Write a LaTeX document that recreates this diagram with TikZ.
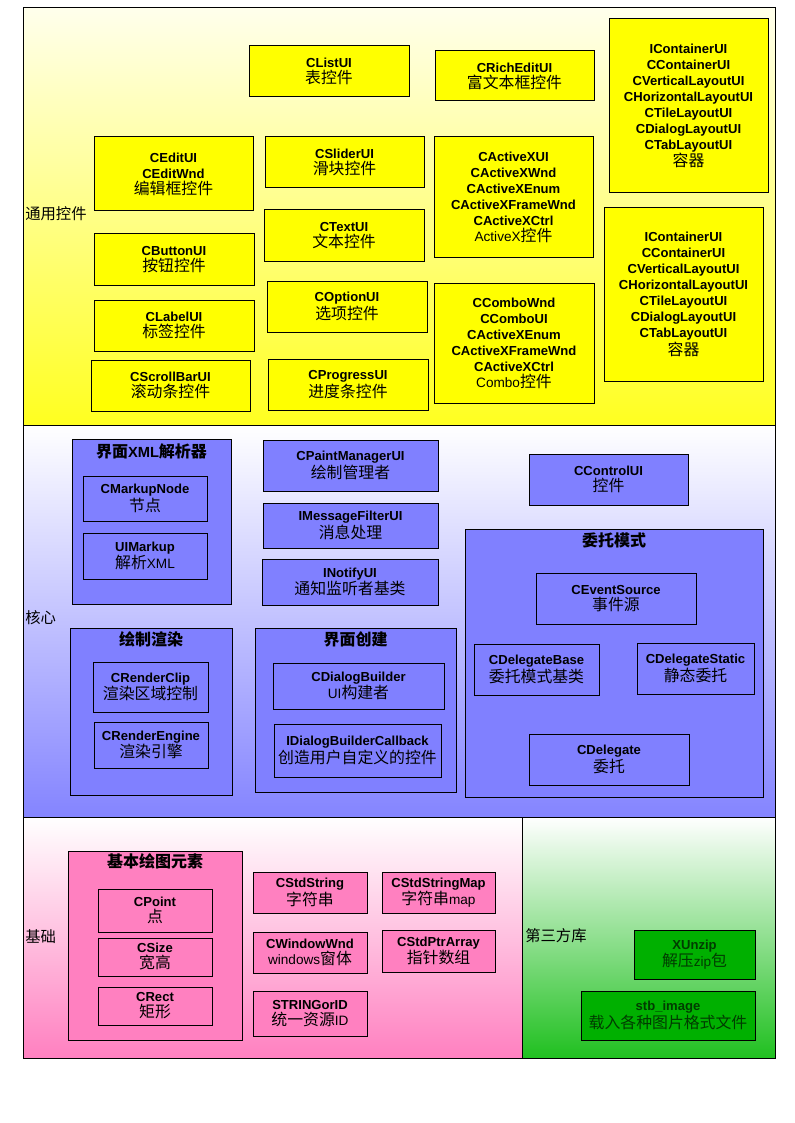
\documentclass[tikz,border=0pt]{standalone}
\usepackage{fontspec}
\setmainfont{Liberation Sans}
\newfontfamily\cjk{Noto Sans CJK SC}
\newcommand\lat{\bfseries\fontsize{9.8}{12}\selectfont}
\newcommand\zh[1]{{\cjk\mdseries\fontsize{11.9}{12}\selectfont #1}}
\newcommand\zhb[1]{{\cjk\bfseries\fontsize{12}{13}\selectfont #1}}
\newcommand\rg[1]{{\mdseries\fontsize{10.2}{12}\selectfont #1}}
\definecolor{boxY}{HTML}{FFFF00}
\definecolor{boxB}{HTML}{8080FF}
\definecolor{boxP}{HTML}{FF80C0}
\definecolor{boxG}{HTML}{00B000}
\definecolor{txtG}{HTML}{003C00}
\definecolor{yTop}{HTML}{FFFFEC}
\definecolor{yBot}{HTML}{FFFF20}
\definecolor{bBot}{HTML}{8484FF}
\definecolor{pBot}{HTML}{FF80C0}
\definecolor{gBot}{HTML}{20C020}
\newcommand\bx[7]{%
 \pgfmathsetmacro\bxx{(#3+#5)/2}\pgfmathsetmacro\bxy{(#4+#6)/2}%
 \pgfmathsetmacro\bxw{(#5-#3)*0.75}\pgfmathsetmacro\bxh{(#6-#4)*0.75}%
 \node[#1, minimum width=\bxw pt, minimum height=\bxh pt] (#2) at (\bxx,\bxy) {#7};}
\tikzset{
 base/.style={draw=black, line width=0.75pt, inner sep=0pt, align=center, font=\lat},
 ybox/.style={base, fill=boxY},
 bbox/.style={base, fill=boxB},
 pbox/.style={base, fill=boxP},
 gbox/.style={base, fill=boxG, text=txtG},
 sect/.style={draw=black, line width=0.75pt},
 seclabel/.style={anchor=west, inner sep=0pt, font=\cjk\fontsize{11.5}{13}\selectfont},
 ttl/.style={inner sep=0pt, font=\bfseries\fontsize{11}{13}\selectfont}
}
\begin{document}
\begin{tikzpicture}[x=0.75pt,y=-0.75pt]
\useasboundingbox[fill=white] (0,0) rectangle (794,1123);
% sections
\shade[top color=yTop, bottom color=yBot] (23,8) rectangle (775,425);
\draw[sect] (23,8) rectangle (775,425);
\shade[top color=white, bottom color=bBot] (23,425) rectangle (775,817);
\draw[sect] (23,425) rectangle (775,817);
\shade[top color=white, bottom color=pBot] (23,817) rectangle (522,1058);
\draw[sect] (23,817) rectangle (522,1058);
\shade[top color=white, bottom color=gBot] (522,817) rectangle (775,1058);
\draw[sect] (522,817) rectangle (775,1058);
\node[seclabel] (l1) at (25,214) {通用控件};
\node[seclabel] (l2) at (25,618) {核心};
\node[seclabel] (l3) at (25,937) {基础};
\node[seclabel] (l4) at (525,936) {第三方库};
% top section
\bx{ybox}{clist}{249}{46}{409}{97}{CListUI\\\zh{表控件}}
\bx{ybox}{crich}{435}{51}{594}{101}{CRichEditUI\\\zh{富文本框控件}}
\bx{ybox}{cont1}{609}{19}{768}{193}{IContainerUI\\CContainerUI\\CVerticalLayoutUI\\CHorizontalLayoutUI\\CTileLayoutUI\\CDialogLayoutUI\\CTabLayoutUI\\\zh{容器}}
\bx{ybox}{cedit}{94}{137}{253}{211}{CEditUI\\CEditWnd\\\zh{编辑框控件}}
\bx{ybox}{cslider}{265}{137}{424}{188}{CSliderUI\\\zh{滑块控件}}
\bx{ybox}{cactx}{434}{137}{593}{257}{CActiveXUI\\CActiveXWnd\\CActiveXEnum\\CActiveXFrameWnd\\CActiveXCtrl\\\rg{ActiveX}\zh{控件}}
\bx{ybox}{ctext}{264}{210}{424}{261}{CTextUI\\\zh{文本控件}}
\bx{ybox}{cont2}{604}{208}{763}{381}{IContainerUI\\CContainerUI\\CVerticalLayoutUI\\CHorizontalLayoutUI\\CTileLayoutUI\\CDialogLayoutUI\\CTabLayoutUI\\\zh{容器}}
\bx{ybox}{cbutton}{94}{234}{254}{285}{CButtonUI\\\zh{按钮控件}}
\bx{ybox}{coption}{267}{281}{427}{332}{COptionUI\\\zh{选项控件}}
\bx{ybox}{ccombo}{434}{283}{594}{403}{CComboWnd\\CComboUI\\CActiveXEnum\\CActiveXFrameWnd\\CActiveXCtrl\\\rg{Combo}\zh{控件}}
\bx{ybox}{clabel}{94}{300}{254}{351}{CLabelUI\\\zh{标签控件}}
\bx{ybox}{cscroll}{91}{360}{250}{411}{CScrollBarUI\\\zh{滚动条控件}}
\bx{ybox}{cprog}{268}{359}{428}{410}{CProgressUI\\\zh{进度条控件}}
% middle section
\bx{bbox}{gxml}{72}{439}{231}{604}{}
\node[ttl] (txml) at (151.5,451) {\zhb{界面}XML\zhb{解析器}};
\bx{bbox}{cmark}{83}{476}{207}{521}{CMarkupNode\\\zh{节点}}
\bx{bbox}{uimark}{83}{533}{207}{579}{UIMarkup\\\zh{解析}\rg{XML}}
\bx{bbox}{cpaint}{263}{440}{438}{491}{CPaintManagerUI\\\zh{绘制管理者}}
\bx{bbox}{imsg}{263}{503}{438}{548}{IMessageFilterUI\\\zh{消息处理}}
\bx{bbox}{inotify}{262}{559}{438}{605}{INotifyUI\\\zh{通知监听者基类}}
\bx{bbox}{cctrl}{529}{454}{688}{505}{CControlUI\\\zh{控件}}
\bx{bbox}{gdel}{465}{529}{763}{797}{}
\node[ttl] (tdel) at (614,540) {\zhb{委托模式}};
\bx{bbox}{cevent}{536}{573}{696}{624}{CEventSource\\\zh{事件源}}
\bx{bbox}{cdbase}{474}{644}{599}{695}{CDelegateBase\\\zh{委托模式基类}}
\bx{bbox}{cdstat}{637}{643}{754}{694}{CDelegateStatic\\\zh{静态委托}}
\bx{bbox}{cdel}{529}{734}{689}{785}{CDelegate\\\zh{委托}}
\bx{bbox}{grender}{70}{628}{232}{795}{}
\node[ttl] (trender) at (151,639) {\zhb{绘制渲染}};
\bx{bbox}{crclip}{93}{662}{208}{712}{CRenderClip\\\zh{渲染区域控制}}
\bx{bbox}{crengine}{94}{722}{208}{768}{CRenderEngine\\\zh{渲染引擎}}
\bx{bbox}{gcreate}{255}{628}{456}{792}{}
\node[ttl] (tcreate) at (355.5,639) {\zhb{界面创建}};
\bx{bbox}{cdbuild}{273}{663}{444}{709}{CDialogBuilder\\\rg{UI}\zh{构建者}}
\bx{bbox}{idbcb}{274}{724}{441}{777}{IDialogBuilderCallback\\\zh{创造用户自定义的控件}}
% bottom section
\bx{pbox}{gdraw}{68}{851}{242}{1040}{}
\node[ttl] (tdraw) at (155,861) {\zhb{基本绘图元素}};
\bx{pbox}{cpoint}{98}{889}{212}{932}{CPoint\\\zh{点}}
\bx{pbox}{csize}{98}{938}{212}{976}{CSize\\\zh{宽高}}
\bx{pbox}{crect}{98}{987}{212}{1025}{CRect\\\zh{矩形}}
\bx{pbox}{cstr}{253}{872}{367}{913}{CStdString\\\zh{字符串}}
\bx{pbox}{cstrmap}{382}{872}{495}{913}{CStdStringMap\\\zh{字符串}\rg{map}}
\bx{pbox}{cwin}{253}{932}{367}{973}{CWindowWnd\\\rg{windows}\zh{窗体}}
\bx{pbox}{cptr}{382}{930}{495}{972}{CStdPtrArray\\\zh{指针数组}}
\bx{pbox}{strid}{253}{991}{367}{1036}{STRINGorID\\\zh{统一资源}\rg{ID}}
\bx{gbox}{xunzip}{634}{930}{755}{979}{XUnzip\\\zh{解压}\rg{zip}\zh{包}}
\bx{gbox}{stbimg}{581}{991}{755}{1040}{stb\_image\\\zh{载入各种图片格式文件}}
\end{tikzpicture}
\end{document}
